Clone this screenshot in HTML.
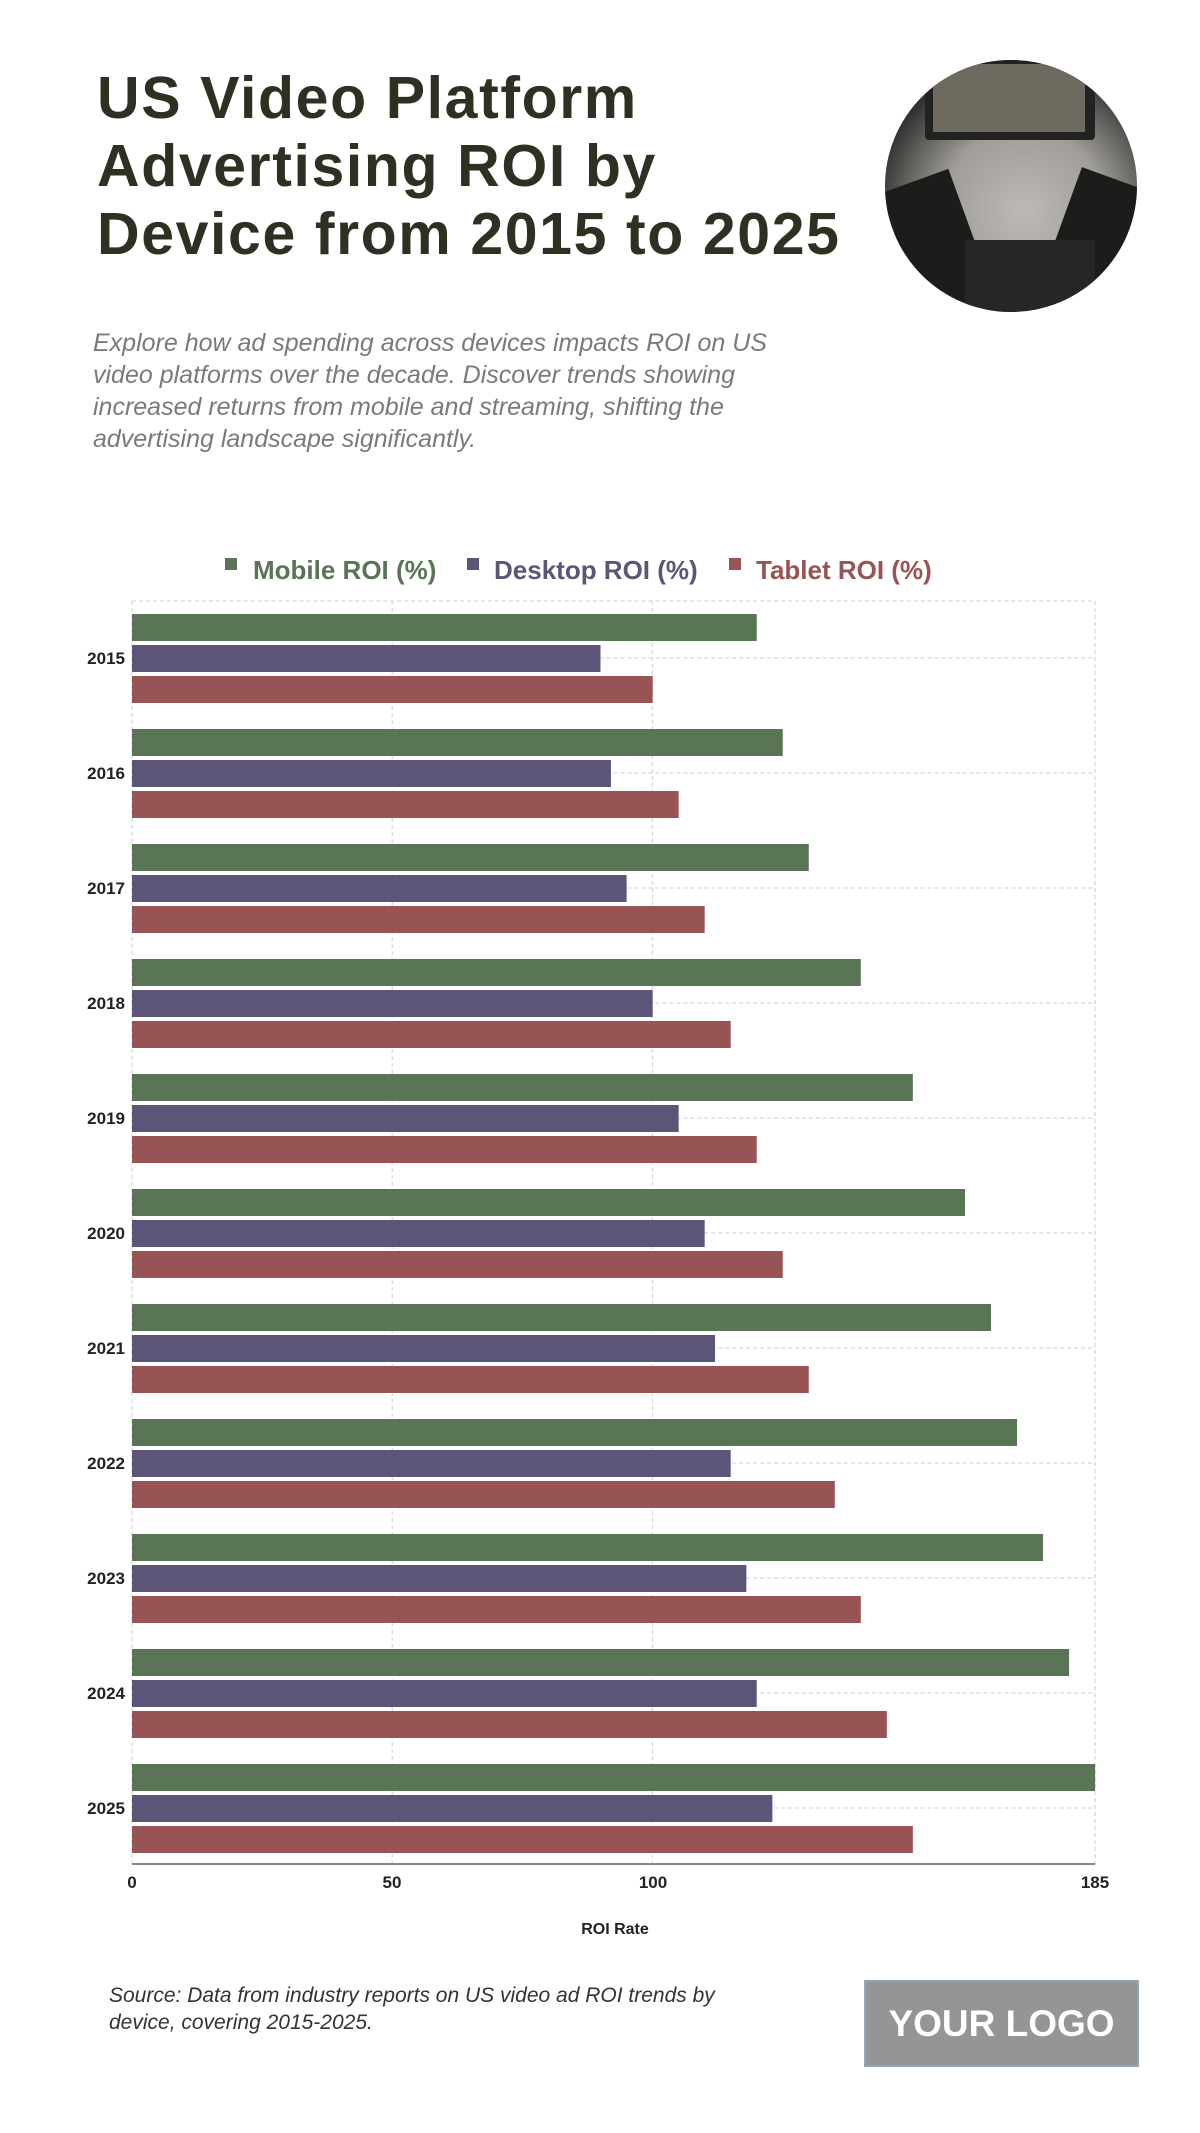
<!DOCTYPE html>
<html><head><meta charset="utf-8"><style>
body{margin:0;width:1200px;height:2133px;background:#fff;position:relative;overflow:hidden;font-family:"Liberation Sans",sans-serif}
.t{position:absolute;left:97px;top:64px;font-size:59px;font-weight:bold;line-height:68px;color:#2e3022;letter-spacing:1.6px}
.s{position:absolute;left:93px;top:327px;font-size:25px;font-style:italic;line-height:32px;color:#7a7a7a;width:735px}
.c{position:absolute;left:885px;top:60px;width:252px;height:252px;border-radius:50%;overflow:hidden;background:radial-gradient(circle at 55% 60%,#bdbab5 0%,#a09d98 40%,#2a2c2a 75%)}
.src{position:absolute;left:109px;top:1982px;font-size:21px;font-style:italic;line-height:27px;color:#333}
.logo{position:absolute;left:864px;top:1980px;width:271px;height:83px;background:#959595;border:2px solid #8aa7c0;color:#fff;font-weight:bold;font-size:37px;text-align:center;line-height:83px}
</style></head><body>
<div class="t">US Video Platform<br>Advertising ROI by<br>Device from 2015 to 2025</div>
<div class="s">Explore how ad spending across devices impacts ROI on US video platforms over the decade. Discover trends showing increased returns from mobile and streaming, shifting the advertising landscape significantly.</div>
<div class="c">
<div style="position:absolute;left:40px;top:0;width:170px;height:80px;background:#222;border-radius:4px"></div>
<div style="position:absolute;left:48px;top:4px;width:152px;height:68px;background:#6f6a60"></div>
<div style="position:absolute;left:0;top:120px;width:90px;height:140px;background:#1b1d1b;transform:rotate(-20deg)"></div>
<div style="position:absolute;left:170px;top:120px;width:100px;height:140px;background:#1b1d1b;transform:rotate(20deg)"></div>
<div style="position:absolute;left:80px;top:180px;width:130px;height:90px;background:#252725"></div>
</div>
<svg style="position:absolute;left:0;top:-4px" width="1200" height="2133">
<g font-family="Liberation Sans,sans-serif" font-weight="bold" font-size="26">
<rect x="225" y="562" width="12" height="12" fill="#5a7555"/><text x="253" y="583" fill="#5a7555">Mobile ROI (%)</text>
<rect x="467" y="562" width="12" height="12" fill="#5d5577"/><text x="494" y="583" fill="#5d5577">Desktop ROI (%)</text>
<rect x="729" y="562" width="12" height="12" fill="#985454"/><text x="756" y="583" fill="#985454">Tablet ROI (%)</text>
</g>
<g transform="translate(132,0) scale(0.997,1) translate(-132,0)">
<g stroke="#d8d8d8" stroke-width="1.3" stroke-dasharray="4,3" fill="none">
<line x1="132" y1="605" x2="1098" y2="605"/>
<line x1="132" y1="605" x2="132" y2="1868"/><line x1="393" y1="605" x2="393" y2="1868"/><line x1="654" y1="605" x2="654" y2="1868"/><line x1="1098" y1="605" x2="1098" y2="1868"/>
<line x1="132" y1="662" x2="1098" y2="662"/><line x1="132" y1="777" x2="1098" y2="777"/><line x1="132" y1="892" x2="1098" y2="892"/><line x1="132" y1="1007" x2="1098" y2="1007"/><line x1="132" y1="1122" x2="1098" y2="1122"/><line x1="132" y1="1237" x2="1098" y2="1237"/><line x1="132" y1="1352" x2="1098" y2="1352"/><line x1="132" y1="1467" x2="1098" y2="1467"/><line x1="132" y1="1582" x2="1098" y2="1582"/><line x1="132" y1="1697" x2="1098" y2="1697"/><line x1="132" y1="1812" x2="1098" y2="1812"/>
</g>
<g>
<g transform="translate(132,605)"><rect y="13" width="626.6" height="27" fill="#5a7555"/><rect y="44" width="469.9" height="27" fill="#5d5577"/><rect y="75" width="522.2" height="27" fill="#985454"/></g>
<g transform="translate(132,720)"><rect y="13" width="652.7" height="27" fill="#5a7555"/><rect y="44" width="480.4" height="27" fill="#5d5577"/><rect y="75" width="548.3" height="27" fill="#985454"/></g>
<g transform="translate(132,835)"><rect y="13" width="678.8" height="27" fill="#5a7555"/><rect y="44" width="496.1" height="27" fill="#5d5577"/><rect y="75" width="574.4" height="27" fill="#985454"/></g>
<g transform="translate(132,950)"><rect y="13" width="731" height="27" fill="#5a7555"/><rect y="44" width="522.2" height="27" fill="#5d5577"/><rect y="75" width="600.5" height="27" fill="#985454"/></g>
<g transform="translate(132,1065)"><rect y="13" width="783.2" height="27" fill="#5a7555"/><rect y="44" width="548.3" height="27" fill="#5d5577"/><rect y="75" width="626.6" height="27" fill="#985454"/></g>
<g transform="translate(132,1180)"><rect y="13" width="835.5" height="27" fill="#5a7555"/><rect y="44" width="574.4" height="27" fill="#5d5577"/><rect y="75" width="652.7" height="27" fill="#985454"/></g>
<g transform="translate(132,1295)"><rect y="13" width="861.6" height="27" fill="#5a7555"/><rect y="44" width="584.8" height="27" fill="#5d5577"/><rect y="75" width="678.8" height="27" fill="#985454"/></g>
<g transform="translate(132,1410)"><rect y="13" width="887.7" height="27" fill="#5a7555"/><rect y="44" width="600.5" height="27" fill="#5d5577"/><rect y="75" width="704.9" height="27" fill="#985454"/></g>
<g transform="translate(132,1525)"><rect y="13" width="913.8" height="27" fill="#5a7555"/><rect y="44" width="616.2" height="27" fill="#5d5577"/><rect y="75" width="731" height="27" fill="#985454"/></g>
<g transform="translate(132,1640)"><rect y="13" width="939.9" height="27" fill="#5a7555"/><rect y="44" width="626.6" height="27" fill="#5d5577"/><rect y="75" width="757.1" height="27" fill="#985454"/></g>
<g transform="translate(132,1755)"><rect y="13" width="966" height="27" fill="#5a7555"/><rect y="44" width="642.3" height="27" fill="#5d5577"/><rect y="75" width="783.2" height="27" fill="#985454"/></g>
</g>
<line x1="132" y1="1868" x2="1098" y2="1868" stroke="#888" stroke-width="2"/>
</g>
<g font-family="Liberation Sans,sans-serif" font-weight="bold" font-size="17" fill="#222" text-anchor="end">
<text x="125" y="668">2015</text><text x="125" y="783">2016</text><text x="125" y="898">2017</text><text x="125" y="1013">2018</text><text x="125" y="1128">2019</text><text x="125" y="1243">2020</text><text x="125" y="1358">2021</text><text x="125" y="1473">2022</text><text x="125" y="1588">2023</text><text x="125" y="1703">2024</text><text x="125" y="1818">2025</text>
</g>
<g font-family="Liberation Sans,sans-serif" font-weight="bold" font-size="17" fill="#222" text-anchor="middle">
<text x="132" y="1892">0</text><text x="392" y="1892">50</text><text x="653" y="1892">100</text><text x="1095" y="1892">185</text>
<text x="615" y="1938" font-size="16">ROI Rate</text>
</g>
</svg>
<div class="src">Source: Data from industry reports on US video ad ROI trends by<br>device, covering 2015-2025.</div>
<div class="logo">YOUR LOGO</div>
</body></html>
